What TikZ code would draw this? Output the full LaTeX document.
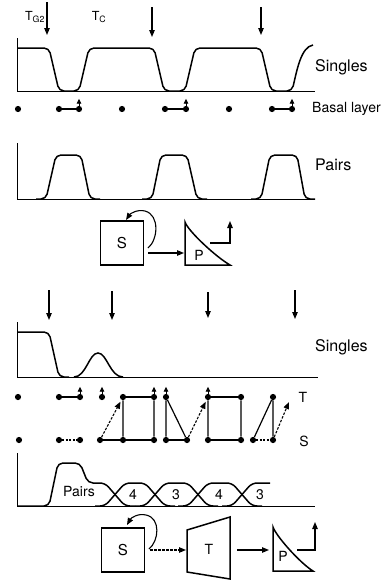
\documentclass[tikz,border=0pt]{standalone}
\usepackage{fontspec}
\setmainfont{TeX Gyre Heros}
\usetikzlibrary{arrows.meta}

\tikzstyle{dot} = [circle, minimum width=6.2pt, fill, inner sep=0pt]
\tikzstyle{lbl} = [font=\fontsize{16}{18}\selectfont, inner sep=0pt]
\tikzstyle{inlbl} = [font=\fontsize{14}{16}\selectfont, inner sep=0pt]
\tikzstyle{smlbl} = [font=\fontsize{12.5}{14}\selectfont, inner sep=0pt]
\tikzstyle{axis} = [line width=1pt]
\tikzstyle{curve} = [line width=1.5pt, rounded corners=5pt]
\tikzstyle{form} = [line width=1.5pt]
\tikzstyle{box} = [draw, line width=1.5pt, minimum width=43pt, minimum height=44pt,
    inner sep=0pt, font=\fontsize{15}{17}\selectfont]
\tikzstyle{link} = [line width=1.2pt]
\tikzstyle{pfeil} = [line width=1.1pt, -{Triangle[length=7pt,width=5.5pt]}]
\tikzstyle{tick} = [line width=0.9pt, -{Triangle[length=5pt,width=4.5pt]}]
\tikzstyle{hop} = [pfeil, dash pattern=on 2.5pt off 1.5pt]

\begin{document}
\begin{tikzpicture}[x=1pt, y=-1pt]
\useasboundingbox (0,0) rectangle (390,581);

% ---- upper half ----
\node[smlbl] (tg2) at (35,17) {T\textsubscript{G2}};
\node[smlbl] (tc) at (99,17) {T\textsubscript{C}};
\foreach \x/\a/\b [count=\i] in {47/2/35, 152/7/37, 261/7/35} {
    \coordinate (ma\i) at (\x,\a);
    \coordinate (na\i) at (\x,\b);
    \draw[pfeil] (ma\i) -- (na\i);
}

% singles
\draw[axis] (17,38) -- (17,91) -- (315,91);
\draw[curve] (17,48) -- (49,48) -- (59,91) -- (79,91) -- (89,48) -- (154,48)
    -- (164,91) -- (185,91) -- (195,48) -- (261,48) -- (271,91) -- (292,91)
    .. controls (297,70) and (301,47) .. (313,45);
\node[lbl, anchor=west] (sing1) at (315,67) {Singles};

% basal layer
\foreach \x [count=\i] in {18,59,79,122,165,186,229,272,292}
    \node[dot] (b\i) at (\x,109) {};
\draw[link] (b2) -- (b3) (b5) -- (b6) (b8) -- (b9);
\foreach \i in {3,6,9}
    \draw[tick] (b\i.north) -- ++(0,-7);
\node[inlbl, anchor=west] (basal) at (312,109) {Basal layer};

% pairs
\draw[axis] (17,143) -- (17,199) -- (315,199);
\draw[curve] (36,199) -- (46,199) -- (56,155) -- (81,155) -- (90,199) -- (100,199);
\draw[curve] (142,199) -- (152,199) -- (161,155) -- (187,155) -- (197,199) -- (207,199);
\draw[curve] (251,199) -- (261,199) -- (270,155) -- (297,155) -- (305,199) -- (315,199);
\node[lbl, anchor=west] (pairs1) at (315,165) {Pairs};

% S -> P
\node[box] (sq1) at (122,243) {S};
\draw[pfeil] (148,248) .. controls (158,240) and (160,215) .. (145,211)
    .. controls (137,209) and (130,214) .. (126,220);
\draw[form] (185,222) -- (185,265) -- (230,265)
    .. controls (216,257) and (188,231) .. cycle;
\node[inlbl] (pl1) at (199,255) {P};
\coordinate (tri1in) at (184,253);
\draw[pfeil] ([xshift=4pt,yshift=-10pt]sq1.east) -- (tri1in);
\coordinate (tri1out) at (210,243);
\coordinate (tri1up) at (230,221);
\draw[pfeil] (tri1out) -| (tri1up);

% ---- lower half ----
\foreach \x/\a/\b [count=\i] in {49/290/320, 112/291/320, 208/292/318, 295/290/319} {
    \coordinate (mb\i) at (\x,\a);
    \coordinate (nb\i) at (\x,\b);
    \draw[pfeil] (mb\i) -- (nb\i);
}

% singles
\draw[axis] (17,322) -- (17,377) -- (318,377);
\draw[curve] (17,332) -- (49,332) -- (59,377) -- (69,377);
\draw[form] (74,377) .. controls (86,377) and (89,353) .. (98,353)
    .. controls (107,353) and (110,377) .. (123,377);
\node[lbl, anchor=west] (sing2) at (315,347) {Singles};

% T and S cells
\foreach \x [count=\i] in {18,59,80,102,123,154,166,208,241,273}
    \node[dot] (t\i) at (\x,397) {};
\foreach \x [count=\i] in {19,59,80,100,123,154,166,187,208,241,253,273}
    \node[dot] (s\i) at (\x,440) {};
\draw[link] (t2) -- (t3) (t5) -- (t6) (t8) -- (t9);
\draw[link, dash pattern=on 2pt off 1.5pt] (s2) -- (s3) (s11) -- (s12);
\draw[link] (s4) -- (s5) -- (s6) (s7) -- (s8) (s9) -- (s10);
\draw[link] (t5) -- (s5) (t6) -- (s6) (t7) -- (s7) (t7) -- (s8)
    (t8) -- (s9) (t9) -- (s10) (t10) -- (s12) (t10) -- (s11);
\foreach \i in {3,4,6,7,8}
    \draw[tick] (t\i.north) -- ++(0,-7);
\coordinate (tend) at (289,402);
\draw[hop, shorten >=2pt] (s4) -- (t5);
\draw[hop, shorten >=2pt] (s8) -- (t8);
\draw[hop] (s12) -- (tend);
\node[inlbl] (tlbl) at (303,397) {T};
\node[inlbl] (slbl) at (304,441) {S};

% pairs, 4s and 3s
\draw[axis] (17,453) -- (17,506) -- (315,506);
\draw[curve] (17,506) -- (49,506) -- (58,463) -- (80,463) -- (88,483) -- (105,483)
    -- (125,506) -- (135,506);
\draw[curve] (95,506) -- (105,506) -- (125,483) -- (145,483) -- (165,506) -- (175,506);
\draw[curve] (135,506) -- (145,506) -- (165,483) -- (188,483) -- (208,506) -- (218,506);
\draw[curve] (178,506) -- (188,506) -- (208,483) -- (232,483) -- (252,506) -- (262,506);
\draw[curve] (222,506) -- (232,506) -- (252,483) -- (270,483);
\node[inlbl] (pairs2) at (79,491) {Pairs};
\node[inlbl] (q1) at (133,495) {4};
\node[inlbl] (q2) at (176,495) {3};
\node[inlbl] (q3) at (219,495) {4};
\node[inlbl] (q4) at (260,495) {3};

% S -> T -> P
\node[box] (sq2) at (123,550) {S};
\draw[pfeil] (149,549) .. controls (159,541) and (161,518) .. (146,515)
    .. controls (138,513) and (131,518) .. (127,525);
\draw[form] (187,530) -- (230,517) -- (230,579) -- (187,572) -- cycle;
\node[inlbl] (tl) at (209,549) {T};
\coordinate (trin) at (186,550);
\draw[hop] ([xshift=5pt]sq2.east) -- (trin);
\coordinate (trout) at (237,550);
\coordinate (tri2in) at (269,550);
\draw[pfeil] (trout) -- (tri2in);
\draw[form] (273,527) -- (273,571) -- (313,571)
    .. controls (300,563) and (276,536) .. cycle;
\node[inlbl] (pl2) at (283,556) {P};
\coordinate (tri2out) at (297,550);
\coordinate (tri2up) at (315,522);
\draw[pfeil] (tri2out) -| (tri2up);
\end{tikzpicture}
\end{document}
